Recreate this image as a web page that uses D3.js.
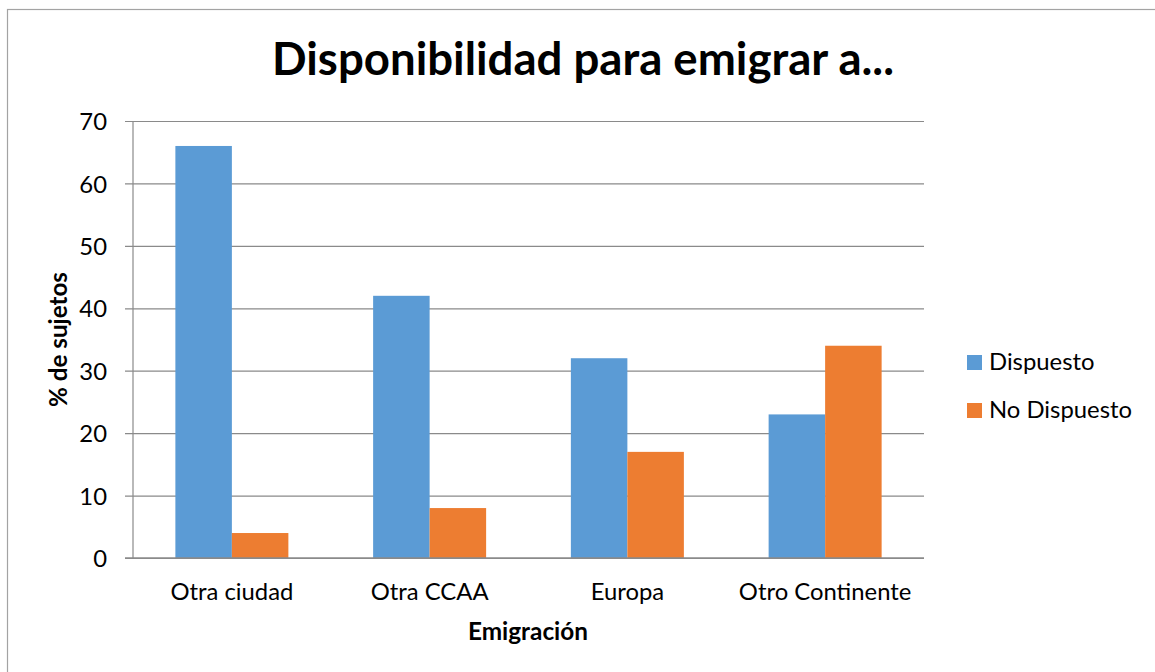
<!DOCTYPE html>
<html><head><meta charset="utf-8">
<script src="https://cdn.jsdelivr.net/npm/d3@7"></script>
<style>body{margin:0;background:#fff}svg{display:block}text{font-family:Lato,"Open Sans",sans-serif;fill:#000}</style>
</head><body>
<svg id="c" width="1155" height="672"></svg>
<script>
const categories = ["Otra ciudad", "Otra CCAA", "Europa", "Otro Continente"];
const seriesNames = ["Dispuesto", "No Dispuesto"];
const dispuesto = [66, 42, 32, 23];
const noDispuesto = [4, 8, 17, 34];
const yTicks = [0, 10, 20, 30, 40, 50, 60, 70];
const colors = ["#5B9BD5", "#ED7D31"];
const title = "Disponibilidad para emigrar a...";
const yTitle = "% de sujetos";
const xTitle = "Emigración";

const values = [dispuesto, noDispuesto];
const svg = d3.select("#c");

function fit(sel, target, base) {
  sel.style("font-size", base + "px");
  const w = sel.node().getComputedTextLength();
  sel.style("font-size", (base * target / w).toFixed(2) + "px");
}

// outer border
svg.append("rect").attr("x", 7.5).attr("y", 9.5).attr("width", 1160).attr("height", 680)
  .attr("fill", "none").attr("stroke", "#a3a3a3").attr("stroke-width", 1.2);

const L = 133, R = 924, T = 121, B = 558;
const y = d3.scaleLinear().domain([0, 70]).range([B, T]);
const x0 = d3.scaleBand().domain(categories).range([L, R]).paddingInner(0).paddingOuter(0);
const x1 = d3.scaleBand().domain(seriesNames).range([0, x0.bandwidth()]).paddingInner(0).paddingOuter(0.75);

// gridlines
const yAxis = d3.axisLeft(y).tickValues(yTicks).tickSize(-(R - L)).tickPadding(26).tickFormat(d3.format("d"));
const gy = svg.append("g").attr("transform", `translate(${L},0)`).call(yAxis);
gy.select(".domain").remove();
gy.selectAll(".tick line").attr("stroke", "#8a8a8a").attr("x1", -8).attr("stroke-width", 1.2);
gy.selectAll(".tick text").attr("font-family", null).style("font-size", "21px").attr("dy", "0.36em");

// bars
const groups = svg.append("g").selectAll("g").data(categories).join("g")
  .attr("transform", d => `translate(${x0(d)},0)`);
groups.selectAll("rect").data((d, i) => seriesNames.map((s, j) => ({s, v: values[j][i], j})))
  .join("rect")
  .attr("x", d => x1(d.s)).attr("width", x1.bandwidth())
  .attr("y", d => y(d.v)).attr("height", d => B - y(d.v))
  .attr("fill", d => colors[d.j]);

// axis lines
svg.append("line").attr("x1", L).attr("x2", L).attr("y1", T).attr("y2", B).attr("stroke", "#8a8a8a").attr("stroke-width", 1.2);
svg.append("line").attr("x1", L - 8).attr("x2", R).attr("y1", B).attr("y2", B).attr("stroke", "#8a8a8a").attr("stroke-width", 1.4);

// category labels
const xAxis = d3.axisBottom(x0).tickSize(0).tickPadding(0);
const gx = svg.append("g").attr("transform", `translate(0,${B})`).call(xAxis);
gx.select(".domain").remove();
gx.selectAll(".tick text").attr("font-family", null).attr("dy", null).attr("y", 42).style("font-size", "21px");

// title
const tt = svg.append("text").attr("x", 583).attr("y", 75).attr("text-anchor", "middle")
  .style("font-weight", "bold").text(title);
fit(tt, 622, 40);

// axis titles
const yt = svg.append("text").attr("transform", "translate(67,339.5) rotate(-90)")
  .attr("text-anchor", "middle").style("font-weight", "bold").text(yTitle);
fit(yt, 135, 18);
const xt = svg.append("text").attr("x", 528).attr("y", 640).attr("text-anchor", "middle")
  .style("font-weight", "bold").text(xTitle);
fit(xt, 120, 18);

// legend
const lg = svg.append("g").selectAll("g").data(seriesNames).join("g")
  .attr("transform", (d, i) => `translate(967,${355 + i * 48})`);
lg.append("rect").attr("width", 15).attr("height", 15).attr("fill", (d, i) => colors[i]);
lg.append("text").attr("x", 22).attr("y", 15).style("font-size", "21px").text(d => d);

// scale body text to match widths
const probe = lg.filter((d, i) => i === 1).select("text");
const w = probe.node().getComputedTextLength();
const bodySize = (21 * 143 / w).toFixed(2) + "px";
lg.selectAll("text").style("font-size", bodySize);
gx.selectAll(".tick text").style("font-size", bodySize);
gy.selectAll(".tick text").style("font-size", bodySize);
</script>
</body></html>
